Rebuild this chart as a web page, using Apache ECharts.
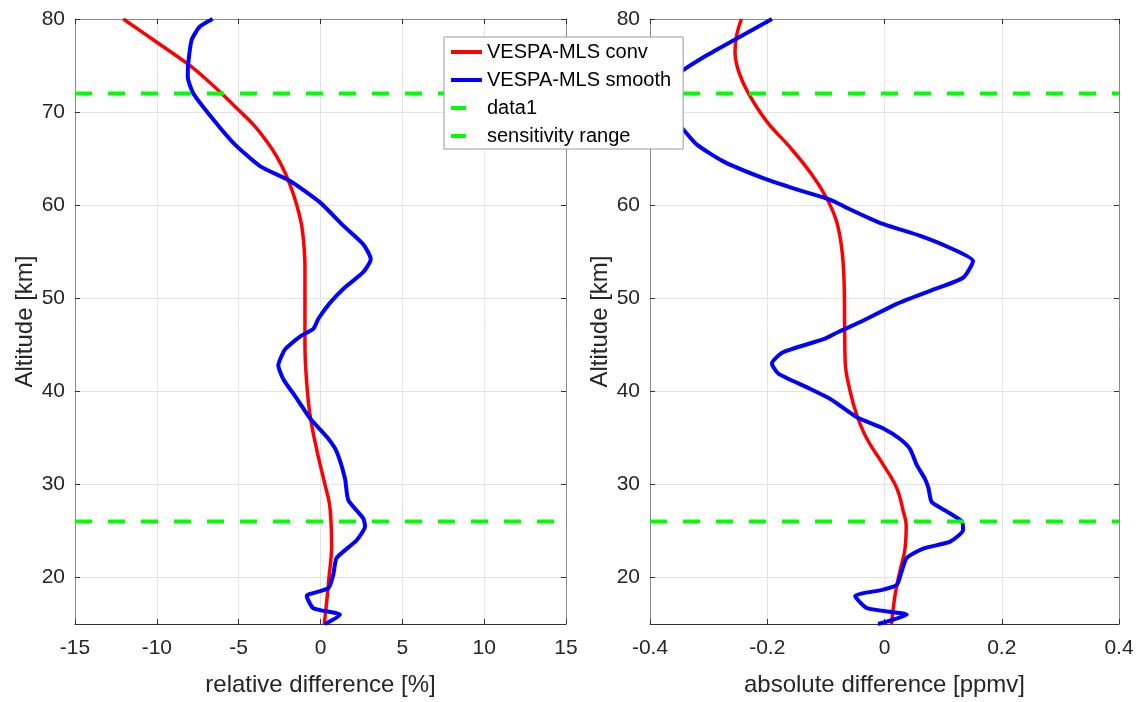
<!DOCTYPE html>
<html>
<head>
<meta charset="utf-8">
<script src="https://cdn.jsdelivr.net/npm/echarts@6/dist/echarts.min.js"></script>
<style>
html,body{margin:0;padding:0;background:#fff;}
#chart{width:1143px;height:702px;}
</style>
</head>
<body>
<div id="chart"></div>
<script>
// ---- data ----
const yTicks = [20, 30, 40, 50, 60, 70, 80];
const relXTicksRange = [-15, 15];
const absXTicksRange = [-0.4, 0.4];
const sensLimits = { upper: 72, lower: 26 };

// relative difference [%]
const relConvAlt = [80, 77.75, 75.25, 73.8, 72, 70.25, 68.65, 66.86, 65.25, 63.5, 61.7, 60, 57.8, 55.6, 53.5, 50, 45, 40, 37, 33.5, 30, 28, 26, 23.5, 20, 17.4, 15];
const relConvVal = [-12.05, -10.2, -8.17, -7.16, -6.04, -5.02, -4.10, -3.29, -2.68, -2.17, -1.76, -1.45, -1.15, -1.01, -0.95, -0.95, -0.95, -0.80, -0.60, -0.20, 0.27, 0.54, 0.64, 0.68, 0.52, 0.38, 0.23];

const relSmoothAlt = [80, 79.2, 77.75, 75.25, 73.8, 72, 69.2, 66.7, 64.2, 62.6, 60.3, 57.8, 55.8, 54.2, 52.8, 51, 49.5, 47.8, 46.7, 46, 44.7, 44.2, 42.8, 41.3, 39.5, 37.1, 34.9, 33.5, 30.6, 28.3, 26.35, 25.5, 24, 22.1, 20.3, 18.85, 18, 16.7, 16, 15];
const relSmoothVal = [-6.59, -7.36, -7.87, -8.08, -8.11, -7.77, -6.55, -5.33, -3.70, -1.86, -0.03, 1.39, 2.61, 3.07, 2.61, 1.39, 0.58, -0.13, -0.44, -1.15, -2.06, -2.27, -2.58, -2.27, -1.56, -0.64, 0.48, 0.99, 1.50, 1.70, 2.61, 2.72, 2.21, 0.99, 0.78, 0.48, -0.84, -0.44, 1.19, 0.27];

// absolute difference [ppmv]
const absConvAlt = [80, 78.3, 76.5, 74.4, 72, 69, 66.2, 63.3, 60.8, 58.3, 55.4, 51.9, 47, 43.1, 40.1, 37.4, 34.9, 32.1, 29.6, 27.1, 25.6, 23.1, 20.6, 18.1, 15];
const absConvVal = [-0.244, -0.252, -0.255, -0.249, -0.232, -0.201, -0.161, -0.124, -0.099, -0.082, -0.073, -0.069, -0.068, -0.067, -0.059, -0.047, -0.030, -0.002, 0.021, 0.032, 0.037, 0.035, 0.026, 0.018, 0.012];

const absSmoothAlt = [80, 77.9, 76.1, 74.4, 73, 71.5, 70, 68.3, 66.5, 64.7, 62.9, 61.7, 60.6, 59.7, 58.1, 56.7, 55.4, 54.0, 52.2, 50.8, 49.4, 47.6, 46.4, 45.6, 44.2, 43.0, 41.9, 40.45, 39.2, 37.2, 36.0, 34.9, 33.8, 32.1, 30.6, 29.6, 28.1, 27.1, 26.0, 25.1, 23.85, 23.1, 22.1, 20.6, 19.2, 18.7, 18.0, 16.7, 16.0, 15.0];
const absSmoothVal = [-0.192, -0.252, -0.303, -0.346, -0.375, -0.39, -0.38, -0.346, -0.320, -0.275, -0.207, -0.150, -0.093, -0.064, -0.008, 0.061, 0.112, 0.151, 0.134, 0.078, 0.021, -0.036, -0.078, -0.104, -0.173, -0.192, -0.181, -0.133, -0.093, -0.047, -0.002, 0.026, 0.0435, 0.055, 0.069, 0.075, 0.0805, 0.106, 0.132, 0.134, 0.112, 0.066, 0.038, 0.029, 0.021, -0.002, -0.050, -0.030, 0.038, -0.011];

// ---- chart ----
const FONT = 'Liberation Sans, Arial, sans-serif';
const TXT = '#262626';
const zip = (xs, ys) => xs.map((x, i) => [x, ys[i]]);

function bottomX(grid, min, max, interval, name) {
  return {
    type: 'value', gridIndex: grid, position: 'bottom', min, max, interval,
    name, nameLocation: 'middle', nameGap: 49,
    nameTextStyle: { fontFamily: FONT, fontSize: 24, color: TXT },
    axisLine: { show: true, onZero: false, lineStyle: { color: '#333', width: 1 } },
    axisTick: { show: true, inside: true, length: 5, lineStyle: { color: '#333' } },
    axisLabel: { show: true, margin: 14, fontFamily: FONT, fontSize: 21, color: TXT,
      formatter: v => String(Math.round(v * 10) / 10) },
    splitLine: { show: true, lineStyle: { color: '#e3e3e3', width: 1 } }
  };
}
function topX(grid, min, max, interval) {
  return {
    type: 'value', gridIndex: grid, position: 'top', min, max, interval,
    axisLine: { show: true, onZero: false, lineStyle: { color: '#8a8a8a', width: 1 } },
    axisTick: { show: true, inside: true, length: 5, lineStyle: { color: '#333' } },
    axisLabel: { show: false }, splitLine: { show: false }
  };
}
function leftY(grid, nameGap) {
  return {
    type: 'value', gridIndex: grid, position: 'left', min: 15, max: 80,
    name: 'Altitude [km]', nameLocation: 'middle', nameGap, nameRotate: 90,
    nameTextStyle: { fontFamily: FONT, fontSize: 24, color: TXT },
    axisLine: { show: true, onZero: false, lineStyle: { color: '#8a8a8a', width: 1 } },
    axisTick: { show: true, inside: true, length: 5, customValues: yTicks, lineStyle: { color: '#333' } },
    axisLabel: { show: true, margin: 10, customValues: yTicks, fontFamily: FONT, fontSize: 21, color: TXT },
    splitLine: { show: true, lineStyle: { color: '#e3e3e3', width: 1 } }
  };
}
function rightY(grid) {
  return {
    type: 'value', gridIndex: grid, position: 'right', min: 15, max: 80,
    axisLine: { show: true, onZero: false, lineStyle: { color: '#8a8a8a', width: 1 } },
    axisTick: { show: true, inside: true, length: 5, customValues: yTicks, lineStyle: { color: '#333' } },
    axisLabel: { show: false }, splitLine: { show: false }
  };
}
function curve(name, xi, yi, data, color, width, smooth) {
  return { name, type: 'line', xAxisIndex: xi, yAxisIndex: yi, data, symbol: 'none', smooth,
    lineStyle: { color, width }, itemStyle: { color }, z: 2, silent: true };
}
function hline(name, xi, yi, range, alt) {
  return { name, type: 'line', xAxisIndex: xi, yAxisIndex: yi,
    data: [[range[0], alt], [range[1], alt]], symbol: 'none',
    lineStyle: { color: '#00ff00', width: 4, type: [17, 16], cap: 'butt' },
    itemStyle: { color: '#00ff00' }, z: 3, silent: true };
}

const chart = echarts.init(document.getElementById('chart'), null, { renderer: 'canvas' });
chart.setOption({
  animation: false,
  backgroundColor: '#fff',
  grid: [
    { left: 75, top: 19, width: 491, height: 607 },
    { left: 650, top: 19, width: 469, height: 607 }
  ],
  xAxis: [
    bottomX(0, relXTicksRange[0], relXTicksRange[1], 5, 'relative difference [%]'),
    topX(0, relXTicksRange[0], relXTicksRange[1], 5),
    bottomX(1, absXTicksRange[0], absXTicksRange[1], 0.2, 'absolute difference [ppmv]'),
    topX(1, absXTicksRange[0], absXTicksRange[1], 0.2)
  ],
  yAxis: [ leftY(0, 35), rightY(0), leftY(1, 38), rightY(1) ],
  legend: {
    left: 444, top: 37, orient: 'vertical',
    backgroundColor: '#fff', borderColor: '#999', borderWidth: 1, borderRadius: 0,
    padding: [5, 12, 3, 5], itemWidth: 31, itemHeight: 14, itemGap: 8,
    textStyle: { fontFamily: FONT, fontSize: 20, color: '#000' },
    itemStyle: { opacity: 0 },
    lineStyle: { width: 4 },
    selectedMode: false,
    data: [
      { name: 'VESPA-MLS conv' },
      { name: 'VESPA-MLS smooth' },
      { name: 'data1', lineStyle: { type: [15, 40] } },
      { name: 'sensitivity range', lineStyle: { type: [15, 40] } }
    ]
  },
  series: [
    curve('VESPA-MLS conv', 0, 0, zip(relConvVal, relConvAlt), '#ff0000', 3.5, 0.4),
    curve('VESPA-MLS smooth', 0, 0, zip(relSmoothVal, relSmoothAlt), '#0000ff', 4, 0.2),
    hline('data1', 0, 0, relXTicksRange, sensLimits.upper),
    hline('sensitivity range', 0, 0, relXTicksRange, sensLimits.lower),
    curve('VESPA-MLS conv', 2, 2, zip(absConvVal, absConvAlt), '#ff0000', 3.5, 0.4),
    curve('VESPA-MLS smooth', 2, 2, zip(absSmoothVal, absSmoothAlt), '#0000ff', 4, 0.2),
    hline('data1', 2, 2, absXTicksRange, sensLimits.upper),
    hline('sensitivity range', 2, 2, absXTicksRange, sensLimits.lower)
  ]
});
</script>
</body>
</html>
